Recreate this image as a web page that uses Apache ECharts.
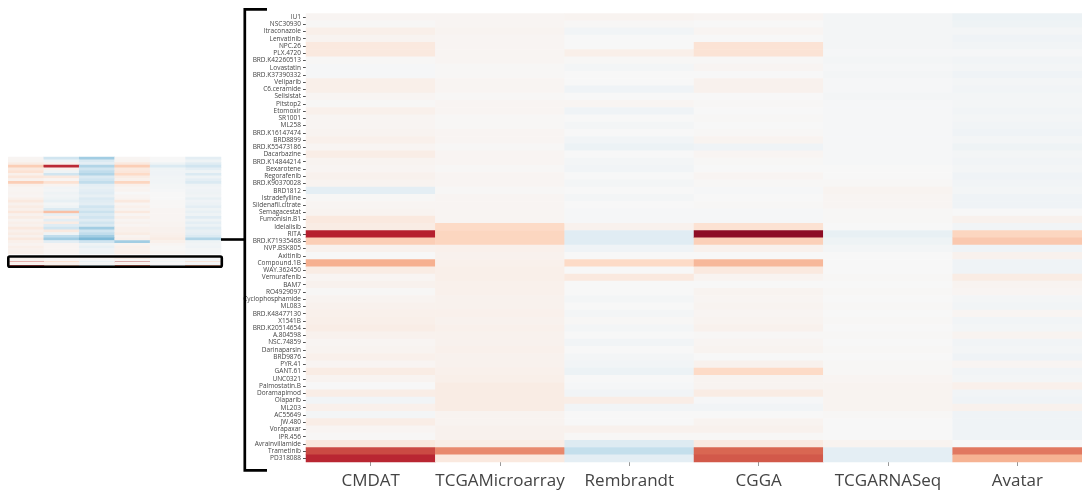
<!DOCTYPE html>
<html>
<head>
<meta charset="utf-8">
<script src="https://cdn.jsdelivr.net/npm/echarts@6/dist/echarts.min.js"></script>
<style>
  html, body { margin: 0; padding: 0; background: #fff; }
  #chart { width: 1082px; height: 490px; }
</style>
</head>
<body>
<div id="chart"></div>
<script>
// Datasets (columns) and compounds (rows) of the zoomed-in heatmap
const datasets = ['CMDAT', 'TCGAMicroarray', 'Rembrandt', 'CGGA', 'TCGARNASeq', 'Avatar'];

const compounds = [
  'IU1', 'NSC30930', 'Itraconazole', 'Lenvatinib', 'NPC.26', 'PLX.4720', 'BRD.K42260513',
  'Lovastatin', 'BRD.K37390332', 'Veliparib', 'C6.ceramide', 'Selisistat', 'Pitstop2',
  'Etomoxir', 'SR1001', 'ML258', 'BRD.K16147474', 'BRD8899', 'BRD.K55473186', 'Dacarbazine',
  'BRD.K14844214', 'Bexarotene', 'Regorafenib', 'BRD.K90370028', 'BRD1812', 'Istradefylline',
  'Sildenafil.citrate', 'Semagacestat', 'Fumonisin.B1', 'Idelalisib', 'RITA', 'BRD.K71935468',
  'NVP.BSK805', 'Axitinib', 'Compound.1B', 'WAY.362450', 'Vemurafenib', 'BAM7', 'RO4929097',
  'Cyclophosphamide', 'ML083', 'BRD.K48477130', 'X1541B', 'BRD.K20514654', 'A.804598',
  'NSC.74859', 'Darinaparsin', 'BRD9876', 'PYR.41', 'GANT.61', 'UNC0321', 'Palmostatin.B',
  'Doramapimod', 'Olaparib', 'ML203', 'AC55649', 'JW.480', 'Vorapaxar', 'IPR.456',
  'Avrainvillamide', 'Trametinib', 'PD318088'
];

// Scores per dataset, one value per compound (same order as `compounds`)
const cmdat = [
  0.02, 0.01, 0.06, 0.03, 0.10, 0.10, 0.01, -0.01, -0.01, 0.06,
  0.06, 0.02, 0.01, 0.05, 0.02, 0.02, 0.03, 0.05, 0.02, 0.07,
  0.03, 0.02, 0.04, 0.03, -0.10, 0.01, 0.02, 0.03, 0.10, 0.08,
  0.78, 0.25, 0.04, 0.00, 0.36, 0.08, 0.02, 0.04, 0.01, 0.03,
  0.04, 0.05, 0.06, 0.07, 0.04, 0.02, 0.03, 0.05, 0.02, 0.08,
  0.03, 0.00, 0.07, -0.03, 0.05, -0.02, 0.07, 0.02, 0.01, 0.11,
  0.66, 0.76
];
const tcgaMicroarray = [
  0.02, 0.02, 0.03, 0.02, 0.02, 0.02, 0.02, 0.01, 0.01, 0.02,
  0.02, 0.01, 0.02, 0.02, 0.01, 0.01, 0.02, 0.02, 0.01, 0.02,
  0.02, 0.01, 0.02, 0.02, 0.01, 0.02, 0.02, 0.02, 0.02, 0.20,
  0.22, 0.22, 0.05, 0.04, 0.05, 0.06, 0.06, 0.05, 0.05, 0.04,
  0.04, 0.05, 0.04, 0.05, 0.04, 0.04, 0.05, 0.04, 0.04, 0.05,
  0.06, 0.08, 0.08, 0.08, 0.08, 0.03, 0.03, 0.04, 0.04, 0.07,
  0.48, 0.10
];
const rembrandt = [
  0.03, 0.01, -0.03, 0.00, 0.00, 0.06, 0.01, -0.02, 0.00, 0.00,
  -0.04, 0.00, 0.02, -0.04, 0.00, -0.02, 0.00, -0.03, -0.06, 0.00,
  -0.02, -0.03, 0.00, -0.02, 0.00, -0.02, 0.00, -0.01, -0.01, 0.04,
  -0.12, -0.12, -0.04, 0.00, 0.20, 0.00, 0.10, 0.00, 0.00, -0.02,
  0.00, -0.02, 0.01, -0.02, 0.00, -0.03, 0.00, -0.02, -0.03, -0.06,
  0.00, -0.01, -0.03, 0.07, -0.03, 0.00, 0.00, 0.04, 0.01, -0.13,
  -0.24, -0.10
];
const cgga = [
  0.02, 0.00, 0.02, 0.00, 0.14, 0.14, 0.01, 0.02, 0.00, 0.04,
  0.04, 0.00, 0.01, 0.00, 0.01, 0.00, 0.01, 0.03, -0.04, 0.02,
  0.01, 0.00, 0.02, 0.01, -0.01, 0.00, 0.01, -0.01, -0.01, 0.15,
  0.90, 0.24, 0.04, 0.00, 0.33, 0.10, 0.03, 0.00, 0.03, 0.02,
  0.03, 0.02, 0.03, 0.04, 0.01, 0.02, 0.03, 0.00, 0.04, 0.20,
  0.03, 0.03, 0.08, -0.01, -0.03, 0.00, 0.03, 0.04, 0.01, 0.09,
  0.58, 0.62
];
const tcgaRnaSeq = [
  -0.02, -0.02, -0.02, -0.02, -0.02, -0.01, -0.02, -0.01, -0.02, -0.01,
  -0.01, -0.02, -0.01, -0.01, -0.01, -0.01, -0.01, -0.01, -0.01, -0.01,
  -0.01, 0.00, 0.00, 0.01, 0.03, 0.02, 0.02, 0.01, 0.01, 0.00,
  -0.08, -0.05, -0.02, 0.00, 0.00, 0.00, 0.01, 0.00, 0.01, 0.00,
  0.01, 0.00, 0.01, 0.00, 0.01, 0.00, 0.01, 0.00, 0.01, 0.01,
  0.02, 0.03, 0.03, 0.03, 0.03, 0.01, 0.00, 0.00, 0.00, 0.03,
  -0.10, -0.10
];
const avatar = [
  -0.06, -0.05, -0.02, -0.04, -0.03, -0.01, -0.03, -0.02, -0.04, -0.02,
  -0.03, -0.02, -0.02, -0.03, -0.02, -0.03, -0.04, -0.02, -0.05, -0.02,
  -0.03, -0.02, -0.04, -0.03, -0.02, -0.04, -0.04, 0.00, 0.04, -0.03,
  0.22, 0.27, -0.04, 0.04, -0.04, -0.04, 0.08, 0.03, 0.02, -0.02,
  -0.03, 0.02, -0.03, -0.02, 0.03, -0.03, -0.02, -0.04, 0.02, -0.03,
  -0.02, 0.05, -0.03, -0.04, 0.04, -0.04, -0.04, -0.04, -0.04, 0.00,
  0.53, 0.35
];

// Coarse overview of the full compound list (upper block of the small panel),
// one row per band, values for the six datasets in column order
const overviewRows = [
  [0.02, -0.20, -0.35, 0.02, 0.00, -0.10],
  [0.03, -0.05, -0.15, 0.03, 0.00, -0.05],
  [0.08, 0.05, -0.10, 0.10, -0.05, -0.12],
  [0.25, 0.75, -0.30, 0.25, -0.15, -0.20],
  [0.10, 0.05, -0.20, 0.10, -0.05, -0.10],
  [0.15, -0.05, -0.25, 0.12, -0.04, -0.05],
  [0.05, -0.20, -0.30, 0.20, -0.04, -0.15],
  [0.12, 0.10, -0.15, 0.08, -0.03, -0.05],
  [0.04, 0.02, -0.20, 0.05, -0.03, -0.10],
  [0.25, 0.15, -0.25, 0.22, -0.03, -0.15],
  [0.05, 0.03, -0.10, 0.05, -0.02, -0.05],
  [0.02, -0.03, -0.08, 0.02, -0.02, -0.03],
  [0.02, -0.02, -0.10, 0.03, -0.01, -0.04],
  [0.03, -0.05, -0.12, 0.00, 0.00, -0.05],
  [0.02, -0.03, -0.08, 0.02, 0.00, -0.03],
  [0.05, -0.05, -0.15, 0.03, 0.00, -0.08],
  [0.10, -0.08, -0.12, 0.10, 0.01, -0.04],
  [0.04, -0.02, -0.10, 0.02, 0.01, -0.06],
  [0.08, -0.05, -0.20, 0.05, 0.01, -0.10],
  [0.05, -0.15, -0.15, 0.03, 0.02, -0.05],
  [0.12, 0.30, -0.22, 0.10, 0.02, -0.08],
  [0.04, -0.08, -0.15, 0.02, 0.02, -0.05],
  [0.08, 0.05, -0.20, 0.06, 0.02, -0.12],
  [0.03, -0.10, -0.12, 0.02, 0.02, -0.05],
  [0.06, 0.08, -0.20, 0.04, 0.03, -0.10],
  [0.04, -0.12, -0.15, 0.02, 0.03, -0.06],
  [0.10, -0.20, -0.35, 0.05, 0.04, -0.12],
  [0.05, 0.10, -0.20, 0.05, 0.04, -0.08],
  [0.08, -0.05, -0.25, 0.08, 0.05, -0.10],
  [0.04, -0.25, -0.35, 0.03, 0.06, -0.15],
  [0.10, -0.35, -0.45, 0.05, 0.08, -0.30],
  [0.05, -0.10, -0.20, -0.35, 0.05, -0.05],
  [0.03, 0.02, -0.05, 0.03, 0.02, -0.03],
  [0.06, 0.02, -0.08, 0.05, 0.01, -0.04],
  [0.04, 0.02, -0.04, 0.04, 0.01, -0.02],
  [0.05, 0.02, -0.05, 0.05, 0.02, -0.02]
];

// Diverging red/blue palette, negative -> positive
const rdbu = ['#053061', '#2166ac', '#4393c3', '#92c5de', '#d1e5f0', '#f7f7f7',
              '#fddbc7', '#f4a582', '#d6604d', '#b2182b', '#67001f'];

const columns = [cmdat, tcgaMicroarray, rembrandt, cgga, tcgaRnaSeq, avatar];
const mainData = [];
columns.forEach((col, xi) => col.forEach((v, yi) => mainData.push([xi, yi, v])));
const overviewData = [];
overviewRows.forEach((row, yi) => row.forEach((v, xi) => overviewData.push([xi, yi, v])));
const overviewLabels = overviewRows.map((_, i) => 'r' + i);

const chart = echarts.init(document.getElementById('chart'), null, { renderer: 'canvas' });

const font = '"Open Sans", "DejaVu Sans", sans-serif';

chart.setOption({
  animation: false,
  backgroundColor: '#ffffff',
  grid: [
    { left: 306, right: -8, top: 13.4, bottom: 27.4 },
    { left: 8.3, width: 212.7, top: 157, height: 97 },
    { left: 9.6, width: 211, top: 258.2, height: 7.4 }
  ],
  xAxis: [
    {
      type: 'category', gridIndex: 0, data: datasets,
      axisLine: { show: false },
      axisTick: { show: true, alignWithLabel: true, length: 4, lineStyle: { color: '#999', width: 1 } },
      axisLabel: { fontSize: 17, color: '#444', fontFamily: font, margin: 11, interval: 0 },
      splitLine: { show: false }
    },
    { type: 'category', gridIndex: 1, data: datasets, show: false },
    { type: 'category', gridIndex: 2, data: datasets, show: false }
  ],
  yAxis: [
    {
      type: 'category', gridIndex: 0, data: compounds, inverse: true,
      axisLine: { show: false },
      axisTick: { show: true, alignWithLabel: true, length: 3, lineStyle: { color: '#555', width: 1 } },
      axisLabel: { fontSize: 6.5, color: '#444', fontFamily: font, margin: 5, interval: 0 },
      splitLine: { show: false }
    },
    { type: 'category', gridIndex: 1, data: overviewLabels, inverse: true, show: false },
    { type: 'category', gridIndex: 2, data: compounds, inverse: true, show: false }
  ],
  visualMap: {
    show: false, type: 'continuous', min: -1, max: 1,
    seriesIndex: [0, 1, 2], inRange: { color: rdbu }
  },
  series: [
    { type: 'heatmap', xAxisIndex: 0, yAxisIndex: 0, data: mainData, itemStyle: { borderWidth: 0 } },
    { type: 'heatmap', xAxisIndex: 1, yAxisIndex: 1, data: overviewData, itemStyle: { borderWidth: 0 } },
    { type: 'heatmap', xAxisIndex: 2, yAxisIndex: 2, data: mainData, itemStyle: { borderWidth: 0 } }
  ],
  graphic: [
    // frame around the highlighted block of the small panel
    { type: 'rect', shape: { x: 8.3, y: 256.5, width: 213.5, height: 10.2, r: 1.5 },
      style: { fill: 'none', stroke: '#000', lineWidth: 2.6 }, z: 100 },
    // connector from the small panel to the bracket
    { type: 'line', shape: { x1: 221, y1: 239.5, x2: 245, y2: 239.5 },
      style: { stroke: '#000', lineWidth: 2.6 }, z: 100 },
    // bracket spanning the zoomed heatmap
    { type: 'polyline', shape: { points: [[267, 9.3], [244.8, 9.3], [244.8, 470.3], [267, 470.3]] },
      style: { fill: 'none', stroke: '#000', lineWidth: 2.7 }, z: 100 }
  ]
});
</script>
</body>
</html>
